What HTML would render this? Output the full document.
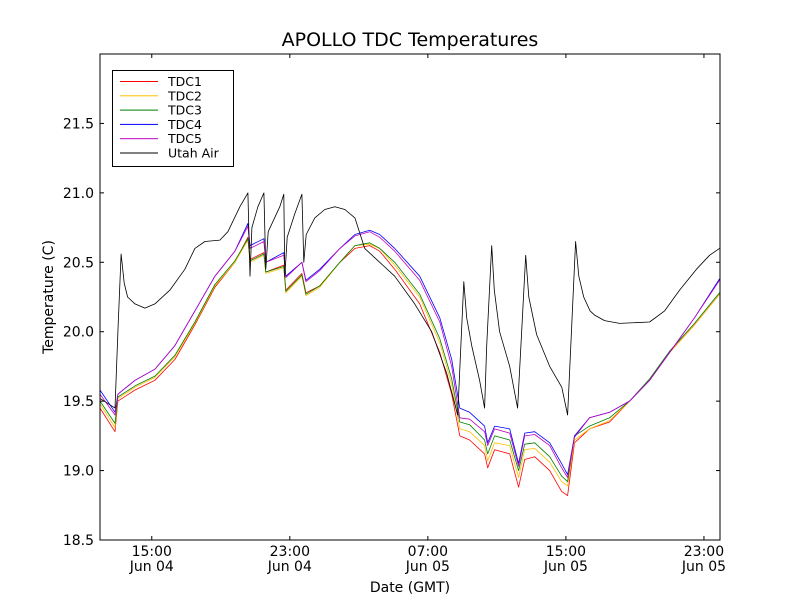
<!DOCTYPE html>
<html><head><meta charset="utf-8"><style>
body{margin:0;background:#fff}
svg text{font-family:"DejaVu Sans","Liberation Sans",sans-serif;fill:#000}
</style></head><body>
<svg id="chart" width="800" height="600" xmlns="http://www.w3.org/2000/svg">
<rect width="800" height="600" fill="#fff"/>
<text x="410" y="46" font-size="19" text-anchor="middle">APOLLO TDC Temperatures</text>
<text x="410" y="592" font-size="14" text-anchor="middle">Date (GMT)</text>
<text transform="translate(53,297) rotate(-90)" font-size="14" text-anchor="middle">Temperature (C)</text>
<g id="series"></g>
<g id="axes"></g>
<rect x="100" y="54" width="620" height="486" fill="none" stroke="#000" stroke-width="1"/>
<g>
<rect x="112.5" y="70.5" width="121" height="96" fill="#fff" stroke="#000"/>
<g id="legend-items"></g>
</g>
</svg>
<script>
const tdcHours=[12.00,12.87,13.04,14.03,15.18,16.34,17.50,18.66,19.82,20.57,20.69,21.50,21.61,22.65,22.77,23.70,23.93,24.74,25.90,26.77,27.63,28.21,29.08,30.53,31.69,32.38,32.85,33.42,34.29,34.47,34.87,35.74,36.26,36.61,37.19,38.06,38.75,39.10,39.50,40.37,41.53,42.69,43.85,45.01,46.45,47.90];
const tdc1=[19.45,19.28,19.5,19.58,19.65,19.8,20.05,20.32,20.5,20.68,20.52,20.57,20.43,20.48,20.3,20.42,20.28,20.33,20.5,20.6,20.62,20.58,20.45,20.2,19.85,19.55,19.25,19.22,19.12,19.02,19.15,19.12,18.88,19.08,19.1,19.0,18.85,18.82,19.2,19.3,19.35,19.5,19.65,19.85,20.05,20.27];
const tdc2=[19.48,19.31,19.52,19.6,19.67,19.82,20.06,20.33,20.5,20.66,20.5,20.55,20.42,20.46,20.28,20.4,20.26,20.32,20.5,20.62,20.63,20.6,20.48,20.25,19.92,19.62,19.3,19.28,19.18,19.07,19.2,19.18,18.95,19.15,19.16,19.06,18.92,18.89,19.22,19.3,19.36,19.5,19.65,19.85,20.05,20.27];
const tdc3=[19.5,19.34,19.53,19.61,19.68,19.83,20.07,20.34,20.51,20.67,20.51,20.56,20.43,20.47,20.29,20.41,20.27,20.33,20.5,20.62,20.64,20.6,20.5,20.27,19.95,19.66,19.35,19.33,19.22,19.12,19.25,19.22,19.0,19.19,19.2,19.1,18.96,18.92,19.25,19.32,19.38,19.5,19.66,19.86,20.06,20.28];
const tdc4=[19.58,19.42,19.55,19.65,19.73,19.9,20.15,20.4,20.58,20.78,20.62,20.67,20.5,20.57,20.4,20.5,20.37,20.45,20.6,20.7,20.73,20.7,20.6,20.4,20.1,19.8,19.45,19.42,19.32,19.2,19.32,19.3,19.05,19.27,19.28,19.2,19.05,18.97,19.25,19.38,19.42,19.5,19.65,19.85,20.1,20.38];
const tdc5=[19.55,19.4,19.55,19.65,19.73,19.9,20.15,20.4,20.58,20.76,20.6,20.65,20.5,20.55,20.39,20.5,20.36,20.44,20.6,20.69,20.72,20.68,20.58,20.37,20.07,19.75,19.38,19.37,19.28,19.18,19.3,19.27,19.03,19.25,19.26,19.18,19.02,18.95,19.24,19.38,19.42,19.5,19.65,19.85,20.1,20.37];
const airHours=[12.0,12.87,13.04,13.22,13.4,13.6,14.03,14.6,15.18,16.05,16.92,17.5,18.08,18.95,19.41,20.11,20.57,20.69,20.8,21.15,21.5,21.61,21.75,22.42,22.65,22.71,22.85,23.29,23.7,23.81,23.95,24.45,25.03,25.61,26.19,26.77,27.34,28.21,29.08,30.24,31.22,32.09,32.73,33.08,33.25,33.54,34.0,34.29,34.41,34.7,34.85,35.16,35.74,36.2,36.67,36.85,37.3,38.06,38.76,39.1,39.56,39.75,40.03,40.4,40.66,41.24,42.11,43.85,44.72,45.59,46.57,47.32,47.9];
const airTemp=[19.52,19.45,20.0,20.56,20.35,20.25,20.2,20.17,20.2,20.3,20.45,20.6,20.65,20.66,20.72,20.9,21.0,20.4,20.75,20.9,21.0,20.45,20.72,20.9,20.99,20.4,20.68,20.85,20.99,20.5,20.7,20.82,20.88,20.9,20.88,20.82,20.6,20.5,20.4,20.2,20.0,19.7,19.4,20.36,20.1,19.9,19.65,19.45,19.9,20.62,20.3,20.0,19.75,19.45,20.55,20.25,19.98,19.75,19.6,19.4,20.65,20.4,20.25,20.15,20.12,20.08,20.06,20.07,20.15,20.3,20.45,20.55,20.6];
const yTicks=[18.5,19.0,19.5,20.0,20.5,21.0,21.5];
const xTickHours=[15,23,31,39,47];
const xTickLabels=[["15:00","Jun 04"],["23:00","Jun 04"],["07:00","Jun 05"],["15:00","Jun 05"],["23:00","Jun 05"]];
const seriesNames=["TDC1","TDC2","TDC3","TDC4","TDC5","Utah Air"];
const seriesColors=["#ff0000","#ffbf00","#008000","#0000ff","#bf00bf","#000000"];

const X0=100,X1=720,Y0=540,Y1=54,H0=12.0,H1=47.93,T0=18.5,T1=22.0;
const sx=h=>X0+(h-H0)/(H1-H0)*(X1-X0);
const sy=v=>Y0-(v-T0)/(T1-T0)*(Y0-Y1);
const NS="http://www.w3.org/2000/svg";
const mk=(t,a)=>{const e=document.createElementNS(NS,t);for(const k in a)e.setAttribute(k,a[k]);return e;};
const g=document.getElementById('series');
const all=[[tdcHours,tdc1],[tdcHours,tdc2],[tdcHours,tdc3],[tdcHours,tdc4],[tdcHours,tdc5],[airHours,airTemp]];
all.forEach((s,i)=>{
  const d=s[0].map((h,j)=>(j?'L':'M')+sx(h).toFixed(1)+' '+sy(s[1][j]).toFixed(1)).join('');
  const p=mk('path',{d:d,fill:'none',stroke:seriesColors[i],'stroke-width':0.8,'stroke-linejoin':'round'});
  
  
  g.appendChild(p);
});
const ax=document.getElementById('axes');
yTicks.forEach(v=>{
  const y=sy(v);
  ax.appendChild(mk('line',{x1:X0,x2:X0+4,y1:y,y2:y,stroke:'#000'}));
  ax.appendChild(mk('line',{x1:X1-4,x2:X1,y1:y,y2:y,stroke:'#000'}));
  const t=mk('text',{x:X0-6,y:y+5,'font-size':14,'text-anchor':'end'});
  t.textContent=v.toFixed(1);
  
  
  ax.appendChild(t);
});
xTickHours.forEach((h,i)=>{
  const x=sx(h);
  ax.appendChild(mk('line',{x1:x,x2:x,y1:Y0,y2:Y0-4,stroke:'#000'}));
  ax.appendChild(mk('line',{x1:x,x2:x,y1:Y1,y2:Y1+4,stroke:'#000'}));
  xTickLabels[i].forEach((s,k)=>{
    const t=mk('text',{x:x,y:556+k*15,'font-size':14,'text-anchor':'middle'});
    t.textContent=s;
    
    
    ax.appendChild(t);
  });
});
const lg=document.getElementById('legend-items');
seriesNames.forEach((n,i)=>{
  const y=81+i*14.3;
  const l=mk('rect',{x:120,y:y,width:38,height:1});
  l.style.fill=seriesColors[i];
  
  
  lg.appendChild(l);
  const t=mk('text',{x:168,y:y+5,'font-size':12.5});
  t.textContent=n;
  
  
  lg.appendChild(t);
});
</script>
</body></html>
